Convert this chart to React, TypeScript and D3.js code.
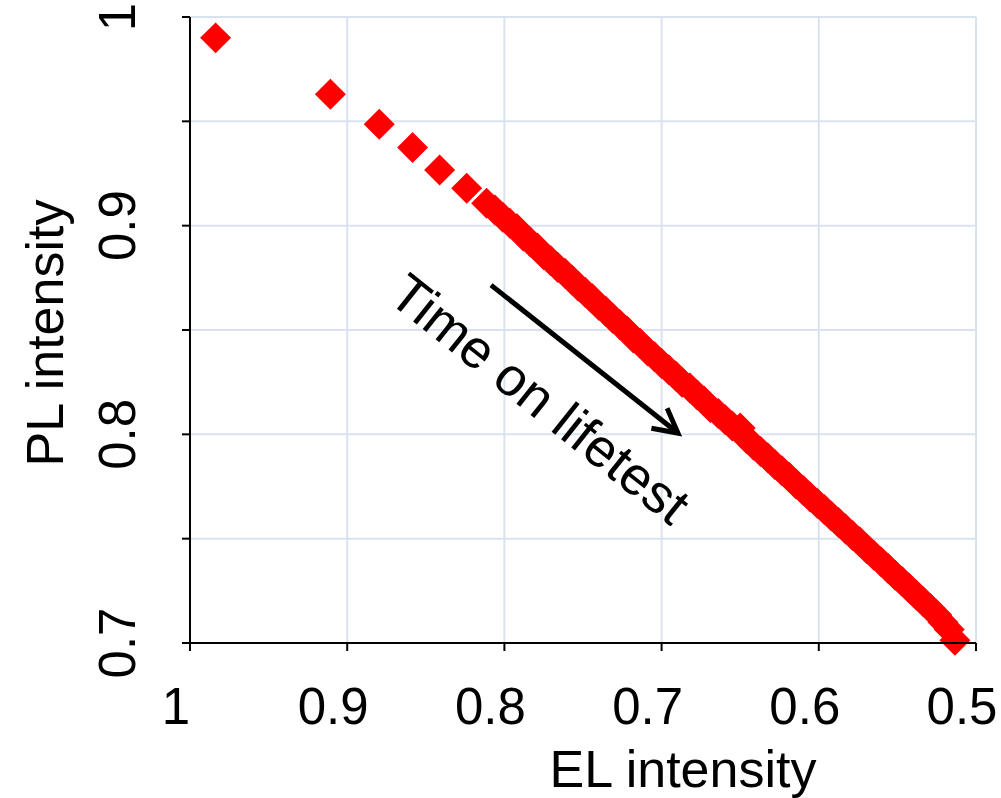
import React from "react";
import * as d3 from "d3";

const elValues: number[] = [
  0.9837, 0.9107, 0.8796, 0.8584, 0.8412, 0.824, 0.8113, 0.806, 0.801, 0.7965,
  0.792, 0.788, 0.7835, 0.779, 0.775, 0.7705, 0.766, 0.7615, 0.757, 0.753,
  0.7485, 0.744, 0.74, 0.7355, 0.731, 0.7265, 0.722, 0.718, 0.7135, 0.709,
  0.7045, 0.7, 0.6955, 0.691, 0.687, 0.682, 0.6775, 0.673, 0.669, 0.664,
  0.6595, 0.655, 0.65, 0.646, 0.6415, 0.637, 0.6325, 0.628, 0.6235, 0.619,
  0.6145, 0.61, 0.6055, 0.601, 0.5965, 0.592, 0.5875, 0.583, 0.5785, 0.574,
  0.5695, 0.565, 0.5605, 0.556, 0.5515, 0.547, 0.5425, 0.538, 0.5335, 0.529,
  0.525, 0.521, 0.517, 0.5134,
];
const plValues: number[] = [
  0.99, 0.963, 0.9486, 0.9375, 0.9267, 0.9179, 0.9107, 0.9075, 0.904, 0.9012,
  0.8985, 0.895, 0.8922, 0.8893, 0.886, 0.8832, 0.88, 0.8772, 0.874, 0.871,
  0.868, 0.865, 0.8618, 0.859, 0.8555, 0.8525, 0.8495, 0.8462, 0.8435, 0.84,
  0.8372, 0.834, 0.831, 0.828, 0.825, 0.8222, 0.819, 0.816, 0.8128, 0.81,
  0.807, 0.804, 0.803, 0.798, 0.7948, 0.7918, 0.7888, 0.7855, 0.7825, 0.7795,
  0.7762, 0.7732, 0.77, 0.767, 0.764, 0.7608, 0.7578, 0.7546, 0.7515, 0.7485,
  0.7452, 0.742, 0.739, 0.7358, 0.7325, 0.7295, 0.7262, 0.723, 0.7198, 0.7165,
  0.7135, 0.71, 0.7065, 0.7013,
];

const xTicks: number[] = [1, 0.9, 0.8, 0.7, 0.6, 0.5];
const xTickLabels: string[] = ["1", "0.9", "0.8", "0.7", "0.6", "0.5"];
const yMajorTicks: number[] = [0.7, 0.8, 0.9, 1];
const yTickLabels: string[] = ["0.7", "0.8", "0.9", "1"];
const yGridTicks: number[] = [0.7, 0.75, 0.8, 0.85, 0.9, 0.95, 1];

const xTitle = "EL intensity";
const yTitle = "PL intensity";
const annotation = "Time on lifetest";
const arrowStart = { el: 0.8085, pl: 0.8715 };
const arrowEnd = { el: 0.6896, pl: 0.8006 };

const FONT = "'Liberation Sans', Arial, sans-serif";
const GRID = "#d9e3f0";

export default function App() {
  const left = 190, right = 976, top = 17, bottom = 643;
  const x = d3.scaleLinear().domain([1, 0.5]).range([left, right]);
  const y = d3.scaleLinear().domain([0.7, 1]).range([bottom, top]);
  const diamond = d3.symbol(d3.symbolSquare, 480)() as string;
  const pts = elValues.map((e, i) => ({ e, p: plValues[i] }));

  const ax1 = x(arrowStart.el), ay1 = y(arrowStart.pl);
  const ax2 = x(arrowEnd.el), ay2 = y(arrowEnd.pl);
  const ang = Math.atan2(ay2 - ay1, ax2 - ax1);
  const headLen = 27, headAng = (28 * Math.PI) / 180;
  const h1 = [ax2 - headLen * Math.cos(ang - headAng), ay2 - headLen * Math.sin(ang - headAng)];
  const h2 = [ax2 - headLen * Math.cos(ang + headAng), ay2 - headLen * Math.sin(ang + headAng)];

  return (
    <svg
      width={1001}
      height={798}
      style={{ position: "absolute", left: 0, top: 0, background: "#fff" }}
      fontFamily={FONT}
    >
      <rect x={0} y={0} width={1001} height={798} fill="#fff" />
      {xTicks.filter((t) => t !== 1).map((t) => (
        <line key={"gx" + t} x1={x(t)} x2={x(t)} y1={top} y2={bottom} stroke={GRID} strokeWidth={2} />
      ))}
      {yGridTicks.filter((t) => t !== 0.7).map((t) => (
        <line key={"gy" + t} x1={left} x2={right} y1={y(t)} y2={y(t)} stroke={GRID} strokeWidth={2} />
      ))}
      {pts.map((d, i) => (
        <path
          key={i}
          d={diamond}
          transform={`translate(${x(d.e)},${y(d.p)}) rotate(45)`}
          fill="#ff0000"
        />
      ))}
      <line x1={left} x2={left} y1={top} y2={bottom + 8} stroke="#000" strokeWidth={2} />
      <line x1={left - 8} x2={right} y1={bottom} y2={bottom} stroke="#000" strokeWidth={2} />
      {yGridTicks.map((t) => (
        <line key={"ty" + t} x1={left - 8} x2={left} y1={y(t)} y2={y(t)} stroke="#000" strokeWidth={2} />
      ))}
      {xTicks.map((t) => (
        <line key={"tx" + t} x1={x(t)} x2={x(t)} y1={bottom} y2={bottom + 8} stroke="#000" strokeWidth={2} />
      ))}
      {xTicks.map((t, i) => (
        <text key={"lx" + t} x={x(t) - 14} y={724} fontSize={51} textAnchor="middle" fill="#000">
          {xTickLabels[i]}
        </text>
      ))}
      {yMajorTicks.map((t, i) => (
        <text
          key={"ly" + t}
          transform={`translate(135,${y(t)}) rotate(-90)`}
          fontSize={51}
          textAnchor="middle"
          fill="#000"
        >
          {yTickLabels[i]}
        </text>
      ))}
      <text x={683} y={787} fontSize={52} textAnchor="middle" fill="#000">{xTitle}</text>
      <text transform={`translate(63,333) rotate(-90)`} fontSize={52} textAnchor="middle" fill="#000">
        {yTitle}
      </text>
      <line x1={ax1} y1={ay1} x2={ax2} y2={ay2} stroke="#000" strokeWidth={5} />
      <polyline
        points={`${h1[0]},${h1[1]} ${ax2},${ay2} ${h2[0]},${h2[1]}`}
        fill="none"
        stroke="#000"
        strokeWidth={5}
      />
      <text transform={`translate(386,300) rotate(38.5)`} fontSize={54} fill="#000">
        {annotation}
      </text>
    </svg>
  );
}
